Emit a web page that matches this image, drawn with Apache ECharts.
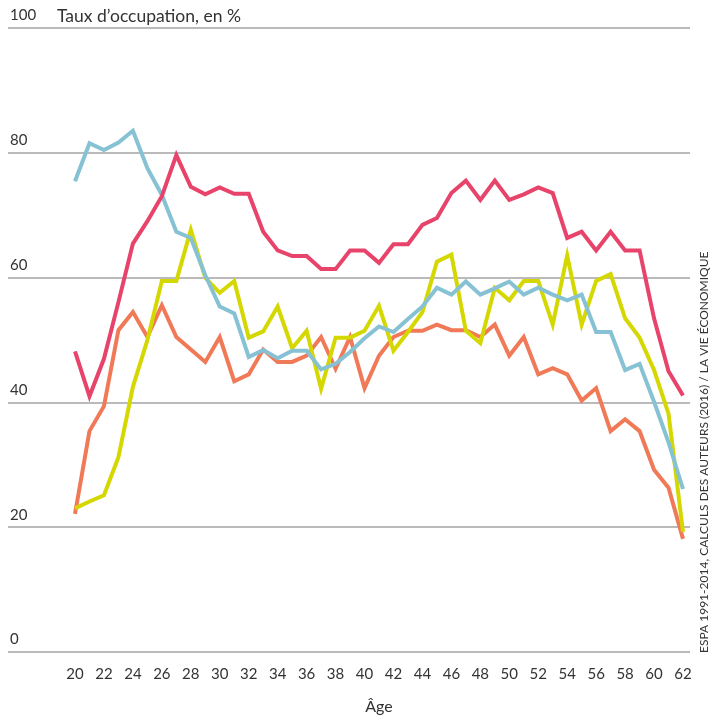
<!DOCTYPE html>
<html><head><meta charset="utf-8">
<script src="https://cdn.jsdelivr.net/npm/echarts@6/dist/echarts.min.js"></script>
<style>html,body{margin:0;padding:0;background:#fff}#c{width:720px;height:720px}</style>
</head><body><div id="c"></div>
<script>
const ages = [20,21,22,23,24,25,26,27,28,29,30,31,32,33,34,35,36,37,38,39,40,41,42,43,44,45,46,47,48,49,50,51,52,53,54,55,56,57,58,59,60,61,62];
const redSeries = [48.1,40.9,46.9,56,65.4,69,73,79.6,74.5,73.3,74.4,73.4,73.4,67.3,64.3,63.4,63.4,61.3,61.3,64.3,64.3,62.3,65.3,65.3,68.4,69.5,73.5,75.5,72.4,75.5,72.4,73.3,74.4,73.5,66.3,67.3,64.3,67.3,64.3,64.3,53.4,44.9,41.0];
const blueSeries = [75.4,81.5,80.4,81.6,83.5,77.5,73.2,67.3,66.3,60.3,55.3,54.2,47.2,48.3,47.0,48.2,48.2,45.2,46.1,48.0,50.2,52.1,51.2,53.3,55.3,58.3,57.2,59.3,57.2,58.2,59.3,57.2,58.3,57.2,56.3,57.2,51.2,51.2,45.1,46.1,40.0,33.5,26.0];
const yellowSeries = [22.9,24.0,25.0,31.1,42.4,49.9,59.4,59.4,67.6,59.9,57.5,59.4,50.3,51.3,55.3,48.6,51.4,42.1,50.3,50.3,51.4,55.4,48.2,51.2,54.4,62.5,63.6,51.4,49.4,58.3,56.3,59.4,59.4,52.4,63.5,52.4,59.4,60.5,53.4,50.3,45.1,38.1,19.1];
const orangeSeries = [22.0,35.3,39.3,51.5,54.4,50.4,55.5,50.4,48.4,46.4,50.4,43.3,44.4,48.4,46.4,46.4,47.4,50.4,45.3,50.4,42.2,47.4,50.4,51.4,51.4,52.4,51.5,51.5,50.4,52.4,47.4,50.4,44.4,45.4,44.4,40.2,42.2,35.3,37.2,35.3,29.1,26.2,18.0];
const yTicks = [0,20,40,60,80,100];
const xTicks = [20,22,24,26,28,30,32,34,36,38,40,42,44,46,48,50,52,54,56,58,60,62];
const yTitle = 'Taux d’occupation, en %';
const xTitle = 'Âge';
const source = 'ESPA 1991-2014, CALCULS DES AUTEURS (2016) / LA VIE ÉCONOMIQUE';

const font = 'Lato';
const pairs = arr => ages.map((a,i)=>[a,arr[i]]);
const mk = (name, arr, color, z) => ({
  name, type:'line', xAxisIndex:1, yAxisIndex:1, data:pairs(arr), symbol:'none',
  lineStyle:{color, width:4, join:'miter'}, z, animation:false
});
const chart = echarts.init(document.getElementById('c'));
chart.setOption({
  animation:false,
  grid:[
    {left:8, right:30, top:28, bottom:68},
    {left:75, right:37, top:28, bottom:68}
  ],
  xAxis:[
    {gridIndex:0, type:'value', min:0, max:1, show:false},
    {gridIndex:1, type:'value', min:20, max:62, interval:2,
     axisLine:{show:false}, axisTick:{show:false}, splitLine:{show:false},
     axisLabel:{color:'#333', fontFamily:font, fontSize:15, margin:16,
       formatter:v=> xTicks.includes(v) ? String(v) : ''},
     name:xTitle, nameLocation:'middle', nameGap:48,
     nameTextStyle:{color:'#333', fontFamily:font, fontSize:16}}
  ],
  yAxis:[
    {gridIndex:0, type:'value', min:0, max:100, interval:20,
     axisLine:{show:false}, axisTick:{show:false},
     splitLine:{lineStyle:{color:'#a3a3a3', width:1.5}},
     axisLabel:{inside:true, color:'#333', fontFamily:font, fontSize:15,
       verticalAlign:'bottom', padding:[0,0,5,2], margin:0,
       formatter:v=> yTicks.includes(v) ? String(v) : ''}},
    {gridIndex:1, type:'value', min:0, max:100, show:false}
  ],
  graphic:[
    {type:'text', left:57, top:7, style:{text:yTitle, fill:'#333', font:'17.5px '+font}},
    {type:'text', x:710, y:653, rotation:Math.PI/2,
     style:{text:source, fill:'#333', font:'12px '+font, textAlign:'left', textVerticalAlign:'bottom'}}
  ],
  series:[
    mk('Orange', orangeSeries, '#f07a57', 2),
    mk('Jaune', yellowSeries, '#d5d800', 3),
    mk('Bleu', blueSeries, '#86c2d4', 4),
    mk('Rouge', redSeries, '#e8436a', 5)
  ]
});
</script></body></html>
